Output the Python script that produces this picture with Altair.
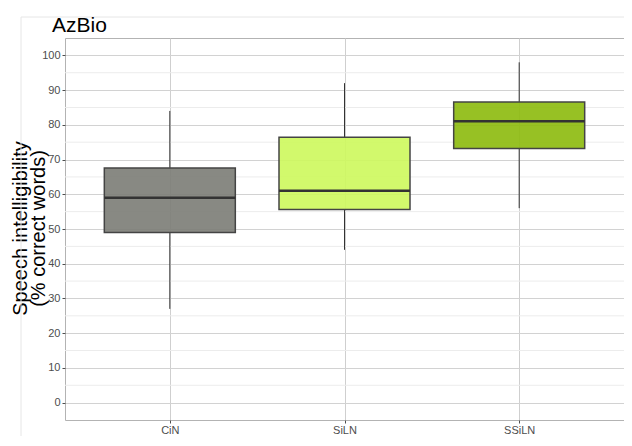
import altair as alt
import pandas as pd

categories = ["CiN", "SiLN", "SSiLN"]
lower = [27, 44, 56]
q1 = [49, 55.6, 73.2]
median = [59, 61, 81]
q3 = [67.6, 76.4, 86.6]
upper = [84, 92, 98]
colors = ["#7b7c76", "#cdf85c", "#8cba0c"]
major_ticks = [0, 10, 20, 30, 40, 50, 60, 70, 80, 90, 100]
minor_ticks = [5, 15, 25, 35, 45, 55, 65, 75, 85, 95]

df = pd.DataFrame({"cat": categories, "lower": lower, "q1": q1,
                   "median": median, "q3": q3, "upper": upper})
minor_df = pd.DataFrame({"v": minor_ticks})

FONT = "Liberation Sans"
W, H = 559, 382

xaxis = alt.Axis(title=None, labelFontSize=11, labelColor="#4d4d4d", labelAngle=0,
                 labelFont=FONT, tickColor="#4d4d4d", tickSize=3,
                 labelPadding=1, grid=True, gridColor="#cfcfcf",
                 gridWidth=1, domain=False)
yaxis = alt.Axis(values=major_ticks, title=["Speech intelligibility", "(% correct words)"],
                 titleFontSize=20, titleFont=FONT, titleFontWeight="normal",
                 titleColor="#000000", titleLineHeight=18, titleBaseline="alphabetic",
                 titleX=-39, titleY=190, titleAngle=270, titleAlign="center",
                 labelFontSize=11, labelColor="#4d4d4d", labelFont=FONT,
                 tickColor="#4d4d4d", tickSize=3, labelPadding=2,
                 grid=True, gridColor="#d2d2d2", gridWidth=1.2, domain=False)
xenc = alt.X("cat:N", sort=categories,
             scale=alt.Scale(type="point", padding=0.6), axis=xaxis)
yscale = alt.Scale(domain=[-5, 105], nice=False, zero=False)
color = alt.Color("cat:N", scale=alt.Scale(domain=categories, range=colors), legend=None)

minor = alt.Chart(minor_df).mark_rule(color="#ececec", strokeWidth=1).encode(
    y=alt.Y("v:Q", scale=yscale, axis=yaxis)
)

base = alt.Chart(df)

wlow = base.mark_rule(color="#333333", strokeWidth=1).encode(
    x=xenc, y=alt.Y("lower:Q", scale=yscale, axis=yaxis), y2="q1:Q",
)
whigh = base.mark_rule(color="#333333", strokeWidth=1).encode(
    x=xenc, y=alt.Y("q3:Q", scale=yscale, axis=yaxis), y2="upper:Q"
)
box = base.mark_bar(size=131, fillOpacity=0.9, stroke="#444444", strokeWidth=1.5).encode(
    x=xenc, y=alt.Y("q1:Q", scale=yscale, axis=yaxis), y2="q3:Q", color=color
)
med = base.mark_tick(size=131, thickness=2.5, color="#333333", opacity=1).encode(
    x=xenc, y=alt.Y("median:Q", scale=yscale, axis=yaxis)
)

frame_h = alt.Chart(minor_df.head(1)).mark_rule(color="#e6e6e6", strokeWidth=1).encode(
    x=alt.value(-44), x2=alt.value(600), y=alt.value(-21)
)
frame_v = alt.Chart(minor_df.head(1)).mark_rule(color="#e6e6e6", strokeWidth=1).encode(
    x=alt.value(-44), y=alt.value(-21), y2=alt.value(400)
)

chart = alt.layer(minor, wlow, whigh, box, med, frame_h, frame_v).properties(
    width=W, height=H,
    title=alt.TitleParams("AzBio", anchor="start", frame="group", fontSize=21, font=FONT,
                          fontWeight="normal", color="#000000",
                          dx=-13, offset=-19),
    autosize=alt.AutoSizeParams(type="none"),
    padding={"left": 57, "top": 30, "right": 0, "bottom": 16},
).configure_view(stroke="#b3b3b3", strokeWidth=1)

chart.save("out.html", embed_options={"renderer": "svg", "actions": False})
